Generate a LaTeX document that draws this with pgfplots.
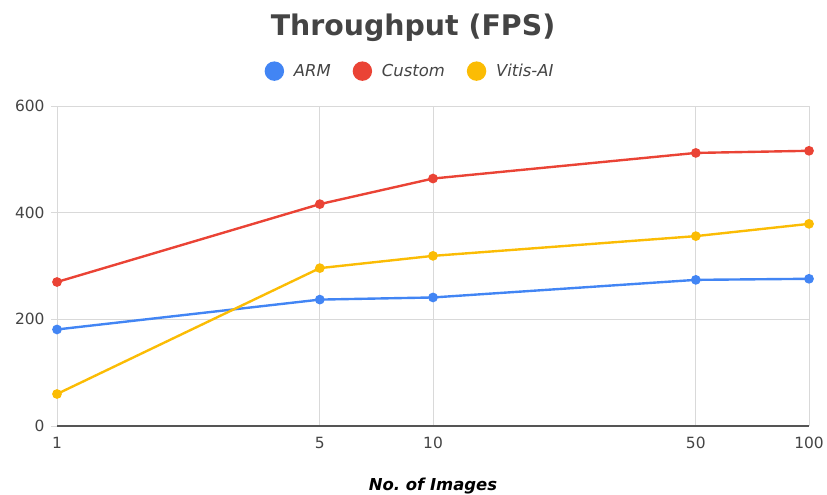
\documentclass[border=0pt]{standalone}
\usepackage{pgfplots}
\pgfplotsset{compat=1.18}
\usepackage{fontspec}
\setmainfont{DejaVu Sans}

\definecolor{armblue}{HTML}{4285F4}
\definecolor{customred}{HTML}{EA4335}
\definecolor{vitisyellow}{HTML}{FBBC04}
\definecolor{txtgray}{HTML}{444444}
\definecolor{gridgray}{HTML}{D9D9D9}
\definecolor{axisgray}{HTML}{555555}

\begin{document}
\begin{tikzpicture}[x=1bp,y=1bp]
\path[use as bounding box] (-57,-69) rectangle (770,426);
\begin{axis}[
  at={(0,0)}, anchor=south west,
  scale only axis,
  width=752bp, height=320bp,
  xmode=log,
  xmin=1, xmax=100,
  ymin=0, ymax=600,
  xtick={1,5,10,50,100},
  xticklabels={1,5,10,50,100},
  ytick={0,200,400,600},
  /pgf/number format/assume math mode=true,
  tick label style={font=\fontsize{15.5}{18}\selectfont, text=txtgray},
  xticklabel style={yshift=-2bp},
  yticklabel style={xshift=-3bp},
  axis x line*=bottom,
  axis y line*=left,
  y axis line style={draw=none},
  x axis line style={draw=axisgray, line width=1.3pt},
  xtick style={draw=none},
  ytick style={draw=gridgray, line width=0.8pt},
  tick align=outside,
  major tick length=6bp,
  xmajorgrids, ymajorgrids,
  grid style={draw=gridgray, line width=0.9pt},
  clip=false,
  legend columns=3,
  legend style={
    draw=none, fill=none,
    at={(0.4695,1.109)}, anchor=center,
    font=\fontsize{16.5}{19}\selectfont\itshape,
    text=txtgray,
    /tikz/every even column/.append style={column sep=20bp},
  },
  legend image code/.code={
    \path[draw=none, fill=none] (-8.5bp,0) -- (17.5bp,0);
    \fill[#1] (0cm,0cm) circle (8.5bp);
  },
]
\addplot[armblue, line width=2.4pt, mark=*, mark size=3.6bp, mark options={fill=armblue, draw=armblue}]
  coordinates {(1,181) (5,237) (10,241) (50,274) (100,276)};
\addlegendentry{ARM}
\addplot[customred, line width=2.4pt, mark=*, mark size=3.6bp, mark options={fill=customred, draw=customred}]
  coordinates {(1,270) (5,416) (10,464) (50,512) (100,516)};
\addlegendentry{Custom}
\addplot[vitisyellow, line width=2.4pt, mark=*, mark size=3.6bp, mark options={fill=vitisyellow, draw=vitisyellow}]
  coordinates {(1,60) (5,296) (10,319) (50,356) (100,379)};
\addlegendentry{Vitis-AI}
\end{axis}
\node[text=txtgray, font=\fontsize{28.5}{34}\selectfont\bfseries] at (356,398) {Throughput (FPS)};
\node[text=black, font=\fontsize{16.5}{19}\selectfont\bfseries\itshape] at (376,-60) {No.\ of Images};
\end{tikzpicture}
\end{document}
